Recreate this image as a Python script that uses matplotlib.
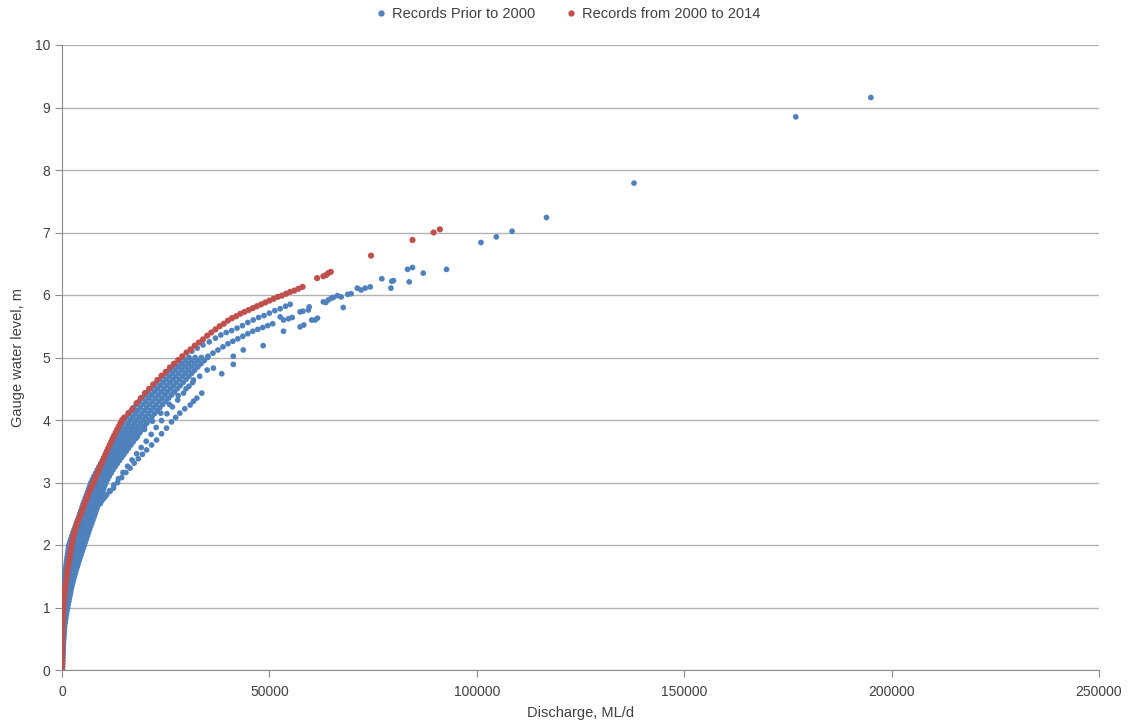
import numpy as np
import matplotlib.pyplot as plt
from matplotlib.lines import Line2D

plt.rcParams['font.family'] = ['Liberation Sans', 'DejaVu Sans']

# ---- Records prior to 2000 (blue) ----
# main dense band, read across its width at gauge levels every 0.1 m
band_levels = [0.0, 0.1, 0.2, 0.3, 0.4, 0.5, 0.6, 0.7, 0.8, 0.9, 1.0,
               1.1, 1.2, 1.3, 1.4, 1.5, 1.6, 1.7, 1.8, 1.9, 2.0,
               2.1, 2.2, 2.3, 2.4, 2.5, 2.6, 2.7, 2.8, 2.9, 3.0,
               3.1, 3.2, 3.3, 3.4, 3.5, 3.6, 3.7, 3.8, 3.9, 4.0,
               4.1, 4.2, 4.3, 4.4, 4.5, 4.6, 4.7, 4.8, 4.9, 5.0]
band_left = [0, 0, 0, 0, 0, 0, 0, 0, 0, 0, 0,
             80, 200, 320, 460, 630, 810, 1000, 1220, 1440, 1670,
             2150, 2650, 3200, 3750, 4300, 4800, 5350, 5900, 6450, 7000,
             7700, 8500, 9300, 10200, 11100, 11900, 12700, 13500, 14300, 15000,
             16100, 17300, 18600, 20000, 21400, 22800, 24300, 25800, 27400, 29100]
band_q1 = [25, 38, 50, 65, 83, 105, 130, 160, 213, 270, 338,
           473, 638, 803, 995, 1223, 1470, 1725, 2015, 2305, 2603,
           3088, 3588, 4125, 4675, 5225, 5725, 6263, 6813, 7350, 7900,
           8625, 9450, 10300, 11250, 12200, 13075, 13950, 14825, 15700, 16500,
           17650, 18875, 20200, 21600, 23000, 24400, 25875, 27350, 28925, 30600]
band_mid = [50, 75, 100, 130, 165, 210, 260, 320, 425, 540, 675,
            865, 1075, 1285, 1530, 1815, 2130, 2450, 2810, 3170, 3535,
            4025, 4525, 5050, 5600, 6150, 6650, 7175, 7725, 8250, 8800,
            9550, 10400, 11300, 12300, 13300, 14250, 15200, 16150, 17100, 18000,
            19200, 20450, 21800, 23200, 24600, 26000, 27450, 28900, 30450, 32100]
band_q3 = [75, 113, 150, 195, 248, 315, 390, 480, 638, 810, 1013,
           1258, 1513, 1768, 2065, 2408, 2790, 3175, 3605, 4035, 4468,
           4963, 5463, 5975, 6525, 7075, 7575, 8088, 8638, 9150, 9700,
           10475, 11350, 12300, 13350, 14400, 15425, 16450, 17475, 18500, 19500,
           20750, 22025, 23400, 24800, 26200, 27600, 29025, 30450, 31975, 33600]
band_right = [100, 150, 200, 260, 330, 420, 520, 640, 850, 1080, 1350,
              1650, 1950, 2250, 2600, 3000, 3450, 3900, 4400, 4900, 5400,
              5900, 6400, 6900, 7450, 8000, 8500, 9000, 9550, 10050, 10600,
              11400, 12300, 13300, 14400, 15500, 16600, 17700, 18800, 19900, 21000,
              22300, 23600, 25000, 26400, 27800, 29200, 30600, 32000, 33500, 35100]

# same band read at the in-between levels
half_levels = [0.05, 0.15, 0.25, 0.35, 0.45, 0.55, 0.65, 0.75, 0.85, 0.95,
               1.05, 1.15, 1.25, 1.35, 1.45, 1.55, 1.65, 1.75, 1.85, 1.95,
               2.05, 2.15, 2.25, 2.35, 2.45, 2.55, 2.65, 2.75, 2.85, 2.95,
               3.05, 3.15, 3.25, 3.35, 3.45, 3.55, 3.65, 3.75, 3.85, 3.95,
               4.05, 4.15, 4.25, 4.35, 4.45, 4.55, 4.65, 4.75, 4.85, 4.95]
half_left = [0, 0, 0, 0, 0, 0, 0, 0, 0, 0,
             40, 140, 260, 390, 545, 720, 905, 1110, 1330, 1555,
             1910, 2400, 2925, 3475, 4025, 4550, 5075, 5625, 6175, 6725,
             7350, 8100, 8900, 9750, 10650, 11500, 12300, 13100, 13900, 14650,
             15550, 16700, 17950, 19300, 20700, 22100, 23550, 25050, 26600, 28250]
half_q1 = [31, 44, 58, 74, 94, 118, 145, 186, 241, 304,
           405, 555, 720, 899, 1109, 1346, 1598, 1870, 2160, 2454,
           2845, 3338, 3856, 4400, 4950, 5475, 5994, 6538, 7081, 7625,
           8263, 9038, 9875, 10775, 11725, 12638, 13513, 14388, 15263, 16100,
           17075, 18263, 19538, 20900, 22300, 23700, 25138, 26613, 28138, 29763]
half_mid = [63, 88, 115, 148, 188, 235, 290, 373, 483, 608,
            770, 970, 1180, 1408, 1673, 1973, 2290, 2630, 2990, 3353,
            3780, 4275, 4788, 5325, 5875, 6400, 6913, 7450, 7988, 8525,
            9175, 9975, 10850, 11800, 12800, 13775, 14725, 15675, 16625, 17550,
            18600, 19825, 21125, 22500, 23900, 25300, 26725, 28175, 29675, 31275]
half_q3 = [94, 131, 173, 221, 281, 353, 435, 559, 724, 911,
           1135, 1385, 1640, 1916, 2236, 2599, 2983, 3390, 3820, 4251,
           4715, 5213, 5719, 6250, 6800, 7325, 7831, 8363, 8894, 9425,
           10088, 10913, 11825, 12825, 13875, 14913, 15938, 16963, 17988, 19000,
           20125, 21388, 22713, 24100, 25500, 26900, 28313, 29738, 31213, 32788]
half_right = [125, 175, 230, 295, 375, 470, 580, 745, 965, 1215,
              1500, 1800, 2100, 2425, 2800, 3225, 3675, 4150, 4650, 5150,
              5650, 6150, 6650, 7175, 7725, 8250, 8750, 9275, 9800, 10325,
              11000, 11850, 12800, 13850, 14950, 16050, 17150, 18250, 19350, 20450,
              21650, 22950, 24300, 25700, 27100, 28500, 29900, 31300, 32750, 34300]

# dotted trails below the band
trail_b_x = [6000, 6750, 7550, 8300, 9200, 10000, 10800, 11600, 12400, 13400,
             14400, 15400, 16400, 17400, 18400, 19400, 20400, 21600, 22800, 24000,
             25200, 26400, 27400, 28400, 29600, 30900, 31700, 32500, 33700]
trail_b_y = [2.33, 2.40, 2.50, 2.58, 2.66, 2.74, 2.81, 2.86, 2.91, 3.00,
             3.08, 3.16, 3.23, 3.31, 3.38, 3.45, 3.52, 3.60, 3.68, 3.78,
             3.87, 3.97, 4.04, 4.11, 4.18, 4.24, 4.30, 4.35, 4.43]
trail_a_x = [9500, 10500, 11500, 12500, 13600, 14700, 15800, 16900, 18000, 19100,
             20300, 21500, 22700, 24000, 25300, 26600, 27900, 29300, 30600, 31700]
trail_a_y = [2.70, 2.78, 2.87, 2.96, 3.06, 3.16, 3.26, 3.36, 3.46, 3.56,
             3.66, 3.77, 3.88, 3.99, 4.10, 4.21, 4.32, 4.43, 4.54, 4.64]
trail_c_x = [18000, 19900, 21800, 23800, 25900, 28000, 29900, 31500, 33200, 35000]
trail_c_y = [3.72, 3.85, 3.98, 4.11, 4.25, 4.39, 4.50, 4.60, 4.70, 4.80]

# two rows continuing the band towards 55000 ML/d
row1_x = [31300, 32600, 34000, 35500, 37000, 38300, 39600, 40900, 42200, 43500,
          44800, 46100, 47400, 48700, 50000, 51300, 52600, 53900, 55000]
row1_y = [5.10, 5.15, 5.20, 5.25, 5.31, 5.36, 5.40, 5.43, 5.47, 5.51,
          5.56, 5.60, 5.64, 5.67, 5.71, 5.75, 5.78, 5.82, 5.85]
row2_x = [35200, 36400, 37600, 38800, 40000, 41200, 42400, 43600, 44800, 46000,
          47200, 48400, 49600, 50800]
row2_y = [5.02, 5.07, 5.12, 5.17, 5.22, 5.26, 5.30, 5.34, 5.38, 5.42,
          5.45, 5.48, 5.51, 5.54]

# scattered high-flow records
blue_sc_x = [36500, 38500, 41300, 43700, 41300, 48500, 53400, 52600, 53400, 54600,
             55500, 57400, 58100, 57400, 58300, 59400, 59600, 60200, 61000, 61600,
             63000, 63600, 64200, 64900, 65400, 66400, 67300, 67800, 68900, 69700,
             71200, 72100, 73100, 74300, 77100, 79300, 79500, 79900, 83300, 84500,
             83700, 87100, 92700, 101000, 104700, 108500, 116800, 137900, 176900, 195000]
blue_sc_y = [4.83, 4.74, 4.89, 5.12, 5.02, 5.19, 5.42, 5.65, 5.60, 5.62,
             5.64, 5.73, 5.74, 5.49, 5.52, 5.76, 5.81, 5.60, 5.60, 5.63,
             5.89, 5.88, 5.92, 5.95, 5.96, 5.99, 5.97, 5.80, 6.01, 6.02,
             6.11, 6.08, 6.11, 6.13, 6.26, 6.11, 6.22, 6.23, 6.41, 6.44,
             6.21, 6.35, 6.41, 6.84, 6.93, 7.02, 7.24, 7.79, 8.85, 9.16]

# ---- Records from 2000 to 2014 (red) ----
red_low_y = [0.05, 0.10, 0.15, 0.20, 0.25, 0.30, 0.35, 0.40, 0.45, 0.50,
             0.55, 0.60, 0.65, 0.70, 0.75, 0.80, 0.85, 0.90, 0.95, 1.00,
             1.05, 1.10, 1.15, 1.20, 1.25, 1.30, 1.35, 1.40, 1.45, 1.50,
             1.55, 1.60, 1.65, 1.70, 1.75, 1.80, 1.85, 1.90, 1.95, 2.00,
             2.05, 2.10, 2.15, 2.20, 2.25, 2.30, 2.35, 2.40, 2.45, 2.50,
             2.55, 2.60, 2.65, 2.70, 2.75, 2.80, 2.85, 2.90, 2.95, 3.00,
             3.05, 3.10, 3.15, 3.20, 3.25, 3.30, 3.35, 3.40, 3.45, 3.50,
             3.55, 3.60, 3.65, 3.70, 3.75, 3.80, 3.85, 3.90, 3.95, 4.00]
red_low_x = [0, 0, 5, 10, 15, 20, 30, 40, 50, 60,
             75, 90, 110, 130, 155, 180, 210, 240, 280, 320,
             385, 450, 525, 600, 680, 760, 850, 940, 1035, 1130,
             1240, 1350, 1465, 1580, 1700, 1820, 1945, 2070, 2200, 2330,
             2490, 2650, 2820, 3000, 3200, 3400, 3650, 3950, 4270, 4600,
             4870, 5150, 5420, 5700, 5970, 6250, 6570, 6900, 7250, 7600,
             7900, 8200, 8520, 8850, 9170, 9500, 9820, 10150, 10470, 10800,
             11150, 11500, 11850, 12200, 12570, 12950, 13320, 13700, 14100, 14500]
red_up_x = [15000, 16000, 17000, 18000, 19000, 20000, 21000, 22000, 23000, 24000,
            25000, 26000, 27000, 28000, 29000, 30000, 31000, 32000, 33000, 34000,
            35000, 36000, 37000, 38000, 39000, 40000, 41000, 42000, 43000, 44000,
            45000, 46000, 47000, 48000, 49000, 50000, 51000, 52000, 53000, 54000,
            55000, 56000, 57000, 58000]
red_up_y = [4.04, 4.11, 4.18, 4.27, 4.35, 4.43, 4.50, 4.57, 4.64, 4.71,
            4.77, 4.84, 4.90, 4.96, 5.02, 5.08, 5.13, 5.19, 5.24, 5.29,
            5.35, 5.40, 5.45, 5.50, 5.54, 5.59, 5.63, 5.66, 5.70, 5.73,
            5.76, 5.79, 5.82, 5.85, 5.88, 5.91, 5.94, 5.97, 5.99, 6.02,
            6.05, 6.07, 6.10, 6.13]
red_sc_x = [61500, 63000, 63700, 64200, 64800, 74500, 84500, 89600, 91100]
red_sc_y = [6.27, 6.30, 6.32, 6.35, 6.37, 6.63, 6.88, 7.00, 7.05]

blue_x = (band_left + band_q1 + band_mid + band_q3 + band_right
          + half_left + half_q1 + half_mid + half_q3 + half_right
          + trail_b_x + trail_a_x + trail_c_x + row1_x + row2_x + blue_sc_x)
blue_y = (band_levels * 5 + half_levels * 5 + trail_b_y + trail_a_y
          + trail_c_y + row1_y + row2_y + blue_sc_y)
red_x = red_low_x + red_up_x + red_sc_x
red_y = red_low_y + red_up_y + red_sc_y

blue = '#4f81bd'
red = '#c0504d'
txt = '#404040'

fig = plt.figure(figsize=(11.29, 7.27), dpi=100)
ax = fig.add_axes([62 / 1129, 1 - 670 / 727, 1037 / 1129, 625 / 727])

ax.scatter(blue_x, blue_y, s=17, color=blue, edgecolors='none', zorder=3)
ax.scatter(red_x, red_y, s=20, color=red, edgecolors='none', zorder=4)

ax.set_xlim(0, 250000)
ax.set_ylim(0, 10)
ax.set_xticks([0, 50000, 100000, 150000, 200000, 250000])
ax.set_yticks(range(0, 11))
ax.grid(axis='y', color='#b3b3b3', lw=1)
ax.set_axisbelow(True)
for s in ['top', 'right']:
    ax.spines[s].set_visible(False)
ax.spines['left'].set_color('#8c8c8c')
ax.spines['bottom'].set_color('#8c8c8c')
ax.tick_params(axis='both', colors='#8c8c8c', labelcolor=txt, labelsize=10,
               length=5, direction='out')
ax.tick_params(axis='x', pad=6)

ax.set_xlabel('Discharge, ML/d', fontsize=10.5, color=txt, labelpad=5)
ax.set_ylabel('Gauge water level, m', fontsize=10.5, color=txt, labelpad=7)

handles = [Line2D([], [], ls='', marker='o', markersize=3.5, color=blue),
           Line2D([], [], ls='', marker='o', markersize=3.5, color=red)]
fig.legend(handles, ['Records Prior to 2000', 'Records from 2000 to 2014'],
           loc='center', bbox_to_anchor=(0.503, 0.981), ncol=2, frameon=False,
           fontsize=10.5, labelcolor=txt, handlelength=0.8, handletextpad=0.4,
           columnspacing=2.0)

fig.savefig('out.png', dpi=100)
